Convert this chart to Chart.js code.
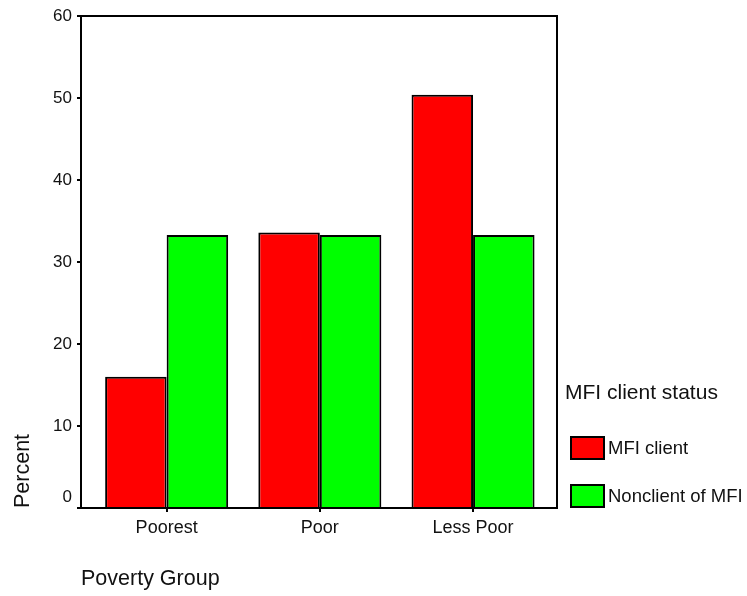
<!DOCTYPE html>
<html>
<head>
<meta charset="utf-8">
<script src="https://cdn.jsdelivr.net/npm/chart.js@4.4.1/dist/chart.umd.min.js"></script>
<style>
  html, body { margin: 0; padding: 0; background: #fff; }
</style>
</head>
<body>
<canvas id="chart" width="747" height="596"></canvas>
<script>
const groups = ["Poorest", "Poor", "Less Poor"];
const clientPct = [16.0, 33.6, 50.4];
const nonclientPct = [33.3, 33.3, 33.3];
const yTicks = [0, 10, 20, 30, 40, 50, 60];
const seriesNames = ["MFI client", "Nonclient of MFI"];
const seriesColors = ["#ff0000", "#00ff00"];
const legendTitle = "MFI client status";

const FONT = '"Liberation Sans", Arial, sans-serif';
const INK = "#111";

// plot frame (top + right sides, axes draw the other two)
const framePlugin = {
  id: "frame",
  afterDraw(chart) {
    const { ctx, chartArea: a } = chart;
    ctx.save();
    ctx.strokeStyle = "#000";
    ctx.lineWidth = 2;
    ctx.strokeRect(a.left, a.top, a.right - a.left, a.bottom - a.top);
    ctx.restore();
  }
};

// the "0" label sits a bit above its tick in the original
const zeroLabelPlugin = {
  id: "zeroLabel",
  afterDraw(chart) {
    const { ctx } = chart;
    const y = chart.scales.y;
    ctx.save();
    ctx.font = "17px " + FONT;
    ctx.fillStyle = INK;
    ctx.textAlign = "right";
    ctx.textBaseline = "middle";
    ctx.fillText("0", y.right - 9, y.getPixelForValue(0) - 11);
    ctx.restore();
  }
};

// legend drawn to the right, bottom-aligned with the plot
const legendPlugin = {
  id: "sideLegend",
  afterDraw(chart) {
    const { ctx, chartArea: a } = chart;
    ctx.save();
    ctx.fillStyle = INK;
    ctx.textAlign = "left";
    ctx.textBaseline = "middle";
    ctx.font = "21px " + FONT;
    ctx.fillText(legendTitle, a.right + 8, a.bottom - 115);
    chart.data.datasets.forEach((ds, i) => {
      const top = a.bottom - 71 + i * 48;
      ctx.fillStyle = ds.backgroundColor;
      ctx.fillRect(a.right + 14, top, 33, 22);
      ctx.strokeStyle = "#000";
      ctx.lineWidth = 2;
      ctx.strokeRect(a.right + 14, top, 33, 22);
      ctx.fillStyle = INK;
      ctx.font = "18.5px " + FONT;
      ctx.fillText(ds.label, a.right + 51, top + 12);
    });
    ctx.restore();
  }
};

new Chart(document.getElementById("chart"), {
  type: "bar",
  data: {
    datasets: [
      {
        label: seriesNames[0],
        data: groups.map((g, i) => ({ x: i, y: clientPct[i] })),
        backgroundColor: seriesColors[0],
        borderColor: "#000",
        borderWidth: 2
      },
      {
        label: seriesNames[1],
        data: groups.map((g, i) => ({ x: i, y: nonclientPct[i] })),
        backgroundColor: seriesColors[1],
        borderColor: "#000",
        borderWidth: 2
      }
    ]
  },
  options: {
    responsive: false,
    animation: false,
    categoryPercentage: 0.803,
    barPercentage: 1.0,
    layout: { padding: { top: 16, right: 190, left: 0, bottom: 0 } },
    plugins: {
      legend: { display: false },
      tooltip: { enabled: false }
    },
    scales: {
      x: {
        type: "linear",
        offset: false,
        min: -0.559,
        max: 2.548,
        afterBuildTicks: (s) => { s.ticks = groups.map((g, i) => ({ value: i })); },
        afterFit: (s) => { s.height = 88; },
        ticks: {
          callback: (v) => groups[v] ?? "",
          font: { family: FONT, size: 18 },
          color: INK,
          padding: 5,
          maxRotation: 0
        },
        grid: { offset: false, drawOnChartArea: false, tickLength: 4, lineWidth: 2, color: "#000" },
        border: { display: true, color: "#000", width: 2 },
        title: {
          display: true,
          text: "Poverty Group",
          align: "start",
          font: { family: FONT, size: 21.5 },
          color: INK,
          padding: { top: 0, bottom: 4 }
        }
      },
      y: {
        min: 0,
        max: 60,
        afterBuildTicks: (s) => { s.ticks = yTicks.map(v => ({ value: v })); },
        afterFit: (s) => { s.width = 81; },
        ticks: {
          callback: (v) => v === 0 ? "" : String(v),
          font: { family: FONT, size: 17 },
          color: INK,
          padding: 5
        },
        grid: { drawOnChartArea: false, tickLength: 4, lineWidth: 2, color: "#000" },
        border: { display: true, color: "#000", width: 2 },
        title: {
          display: true,
          text: "Percent",
          align: "start",
          font: { family: FONT, size: 21.5 },
          color: INK,
          padding: { top: 10, bottom: 0 }
        }
      }
    }
  },
  plugins: [framePlugin, zeroLabelPlugin, legendPlugin]
});
</script>
</body>
</html>
